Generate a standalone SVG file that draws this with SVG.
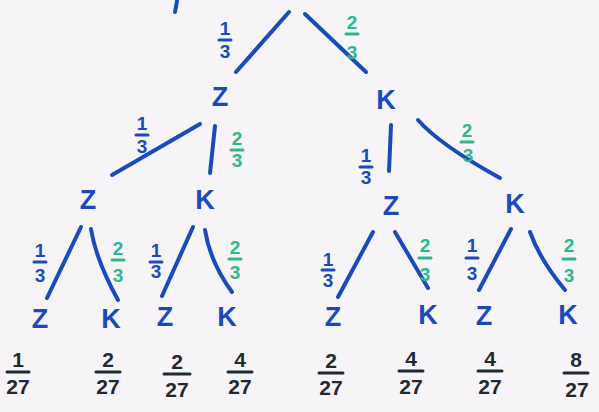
<svg xmlns="http://www.w3.org/2000/svg" width="599" height="412" viewBox="0 0 599 412">
<style>
.e{stroke:#1a4bbb;stroke-width:4;stroke-linecap:round;fill:none}
.n{font-family:"Liberation Sans",Arial,sans-serif;font-size:27px;font-weight:bold;fill:#1a4bbb;text-anchor:middle}
.fb{font-family:"Liberation Sans",Arial,sans-serif;font-size:19px;font-weight:bold;fill:#1a4bbb;text-anchor:middle}
.fg{font-family:"Liberation Sans",Arial,sans-serif;font-size:19px;font-weight:bold;fill:#2fb88c;text-anchor:middle}
.fk{font-family:"Liberation Sans",Arial,sans-serif;font-size:21px;font-weight:bold;fill:#1e2a30;text-anchor:middle}
.bb{stroke:#1a4bbb;stroke-width:3;stroke-linecap:round}
.bg{stroke:#2fb88c;stroke-width:3;stroke-linecap:round}
.bk{stroke:#1e2a30;stroke-width:3;stroke-linecap:round}
</style>
<rect width="599" height="412" fill="#f6f4f7"/>
<g id="connectors">
<line class="e" x1="177" y1="1" x2="175" y2="12"/>
<line class="e" x1="289" y1="12" x2="236" y2="72"/>
<line class="e" x1="305" y1="14" x2="366" y2="72"/>
<line class="e" x1="200" y1="124" x2="112" y2="175"/>
<line class="e" x1="215" y1="126" x2="210" y2="173"/>
<line class="e" x1="391" y1="125" x2="389" y2="171"/>
<path class="e" d="M418 120 Q440 145 500 178"/>
<line class="e" x1="81" y1="227" x2="47" y2="298"/>
<path class="e" d="M91 229 Q96 260 118 300"/>
<line class="e" x1="193" y1="227" x2="162" y2="296"/>
<path class="e" d="M205 230 Q210 262 232 292"/>
<line class="e" x1="373" y1="232" x2="338" y2="297"/>
<line class="e" x1="395" y1="232" x2="428" y2="288"/>
<line class="e" x1="511" y1="229" x2="479" y2="290"/>
<path class="e" d="M530 232 Q540 260 565 290"/>
</g>
<g id="labels">
<g><text class="fb" x="225" y="35">1</text><line class="bb" x1="219" y1="40" x2="231" y2="40"/><text class="fb" x="225" y="58">3</text></g>
<g><text class="fg" x="352" y="29">2</text><line class="bg" x1="346" y1="34" x2="358" y2="34"/><text class="fg" x="352" y="59">3</text></g>
<g><text class="fb" x="142" y="130">1</text><line class="bb" x1="136" y1="135" x2="148" y2="135"/><text class="fb" x="142" y="153">3</text></g>
<g><text class="fg" x="237" y="145">2</text><line class="bg" x1="231" y1="150" x2="243" y2="150"/><text class="fg" x="237" y="167">3</text></g>
<g><text class="fb" x="366" y="162">1</text><line class="bb" x1="360" y1="167" x2="372" y2="167"/><text class="fb" x="366" y="184">3</text></g>
<g><text class="fg" x="467" y="137">2</text><line class="bg" x1="461" y1="142" x2="473" y2="142"/><text class="fg" x="468" y="162">3</text></g>
<g><text class="fb" x="40" y="257">1</text><line class="bb" x1="34" y1="262" x2="46" y2="262"/><text class="fb" x="40" y="282">3</text></g>
<g><text class="fg" x="118" y="255">2</text><line class="bg" x1="112" y1="260" x2="124" y2="260"/><text class="fg" x="118" y="282">3</text></g>
<g><text class="fb" x="156" y="257">1</text><line class="bb" x1="150" y1="262" x2="162" y2="262"/><text class="fb" x="156" y="278">3</text></g>
<g><text class="fg" x="235" y="254">2</text><line class="bg" x1="229" y1="259" x2="241" y2="259"/><text class="fg" x="235" y="279">3</text></g>
<g><text class="fb" x="328" y="266">1</text><line class="bb" x1="322" y1="270" x2="334" y2="270"/><text class="fb" x="328" y="287">3</text></g>
<g><text class="fg" x="425" y="252">2</text><line class="bg" x1="419" y1="258" x2="431" y2="258"/><text class="fg" x="425" y="281">3</text></g>
<g><text class="fb" x="472" y="252">1</text><line class="bb" x1="466" y1="258" x2="478" y2="258"/><text class="fb" x="472" y="280">3</text></g>
<g><text class="fg" x="569" y="252">2</text><line class="bg" x1="563" y1="259" x2="575" y2="259"/><text class="fg" x="569" y="282">3</text></g>
</g>
<g id="n1z"><text class="n" x="220" y="106">Z</text></g>
<g id="n1k"><text class="n" x="386" y="109">K</text></g>
<g id="n2z1"><text class="n" x="88" y="209">Z</text></g>
<g id="n2k1"><text class="n" x="205" y="209">K</text></g>
<g id="n2z2"><text class="n" x="391" y="215">Z</text></g>
<g id="n2k2"><text class="n" x="515" y="213">K</text></g>
<g id="l1"><text class="n" x="40" y="328">Z</text></g>
<g id="l2"><text class="n" x="111" y="328">K</text></g>
<g id="l3"><text class="n" x="165" y="326">Z</text></g>
<g id="l4"><text class="n" x="227" y="326">K</text></g>
<g id="l5"><text class="n" x="333" y="326">Z</text></g>
<g id="l6"><text class="n" x="428" y="324">K</text></g>
<g id="l7"><text class="n" x="484" y="325">Z</text></g>
<g id="l8"><text class="n" x="568" y="324">K</text></g>
<g id="results">
<g><text class="fk" x="18" y="367">1</text><line class="bk" x1="7" y1="372" x2="29" y2="372"/><text class="fk" x="18" y="394">27</text></g>
<g><text class="fk" x="108" y="367">2</text><line class="bk" x1="96" y1="372" x2="120" y2="372"/><text class="fk" x="108" y="394">27</text></g>
<g><text class="fk" x="177" y="369">2</text><line class="bk" x1="164" y1="374" x2="190" y2="374"/><text class="fk" x="177" y="397">27</text></g>
<g><text class="fk" x="240" y="367">4</text><line class="bk" x1="228" y1="372" x2="252" y2="372"/><text class="fk" x="240" y="394">27</text></g>
<g><text class="fk" x="331" y="368">2</text><line class="bk" x1="319" y1="373" x2="343" y2="373"/><text class="fk" x="331" y="395">27</text></g>
<g><text class="fk" x="411" y="366">4</text><line class="bk" x1="399" y1="371" x2="423" y2="371"/><text class="fk" x="411" y="394">27</text></g>
<g><text class="fk" x="490" y="366">4</text><line class="bk" x1="478" y1="371" x2="502" y2="371"/><text class="fk" x="490" y="394">27</text></g>
<g><text class="fk" x="576" y="367">8</text><line class="bk" x1="564" y1="373" x2="588" y2="373"/><text class="fk" x="577" y="397">27</text></g>
</g>
</svg>
